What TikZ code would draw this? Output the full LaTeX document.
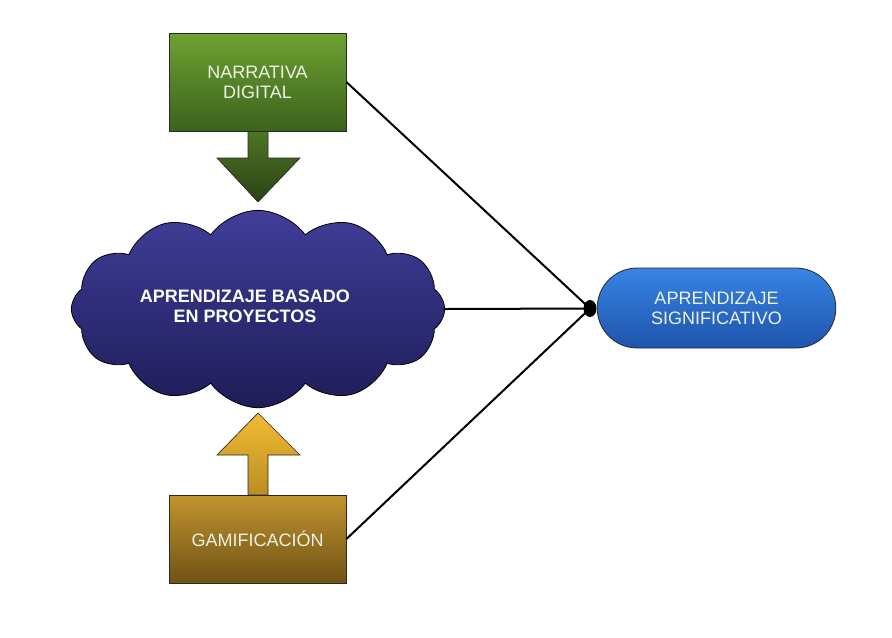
\documentclass[tikz,border=0pt]{standalone}
\usepackage{fontspec}
\setmainfont{Liberation Sans}
\usetikzlibrary{shapes.symbols,shapes.misc}

\definecolor{greenTop}{RGB}{110,162,50}
\definecolor{greenBot}{RGB}{60,98,28}
\definecolor{greenArrTop}{RGB}{78,118,36}
\definecolor{greenArrBot}{RGB}{42,66,20}
\definecolor{cloudTop}{RGB}{64,62,152}
\definecolor{cloudBot}{RGB}{30,28,88}
\definecolor{pillTop}{RGB}{56,132,228}
\definecolor{pillBot}{RGB}{30,84,172}
\definecolor{goldTop}{RGB}{192,148,46}
\definecolor{goldBot}{RGB}{112,82,22}
\definecolor{goldArrTop}{RGB}{242,188,50}
\definecolor{goldArrBot}{RGB}{188,140,38}
\definecolor{edgeGray}{RGB}{40,40,40}
\definecolor{boxText}{RGB}{236,242,230}

\tikzset{
  boxtext/.style={font=\fontsize{13.5}{15}\selectfont, text=boxText, align=center},
  squarebox/.style={draw=edgeGray, line width=0.6pt, minimum width=132.75pt, minimum height=73.5pt, inner sep=0pt},
  link/.style={line width=1.5pt, draw=black}
}

\begin{document}
\begin{tikzpicture}[x=0.75pt,y=0.75pt,yscale=-1,xscale=1]
\useasboundingbox (0,0) rectangle (892,637);

%Shape: Block Arrow down
\draw [draw=edgeGray, line width=0.5pt, top color=greenArrTop, bottom color=greenArrBot]
  (248,131) -- (268,131) -- (268,158) -- (300,158) -- (258,202) -- (217,158) -- (248,158) -- cycle ;
%Shape: Block Arrow up
\draw [draw=edgeGray, line width=0.5pt, top color=goldArrTop, bottom color=goldArrBot]
  (248,495) -- (268,495) -- (268,455) -- (300,455) -- (258,413) -- (217,455) -- (248,455) -- cycle ;

%Shape: Rectangle
\node (narrativa) [squarebox, top color=greenTop, bottom color=greenBot, boxtext] at (257.5,82) {NARRATIVA\\DIGITAL};
%Shape: Rectangle
\node (gamificacion) [squarebox, minimum height=66pt, top color=goldTop, bottom color=goldBot, boxtext] at (257.5,539) {GAMIFICACI\'ON};
%Shape: Cloud
\node (abp) [cloud, cloud puffs=12, cloud puff arc=110, aspect=2, draw=black, line width=0.6pt, inner sep=0pt,
  minimum width=280pt, minimum height=148pt, top color=cloudTop, bottom color=cloudBot] at (258,309) {};
% Text Node
\node (abptext) [boxtext, text=white, font=\fontsize{13.5}{15}\selectfont\bfseries] at (245,306) {APRENDIZAJE BASADO\\EN PROYECTOS};
%Shape: Rounded Rectangle
\node (significativo) [rounded rectangle, draw=edgeGray, line width=0.6pt, minimum width=179pt, minimum height=60pt, inner sep=0pt,
  top color=pillTop, bottom color=pillBot, boxtext] at (716.5,308) {APRENDIZAJE\\SIGNIFICATIVO};

\coordinate (junction) at (590,308.5);

%Straight Lines
\draw [link] (narrativa.east) -- (junction) ;
\draw [link] (abp.east) -- (junction) ;
\draw [link] (gamificacion.east) -- (junction) ;
\fill [black] (junction) ellipse (6.5 and 8.5) ;

\end{tikzpicture}
\end{document}
